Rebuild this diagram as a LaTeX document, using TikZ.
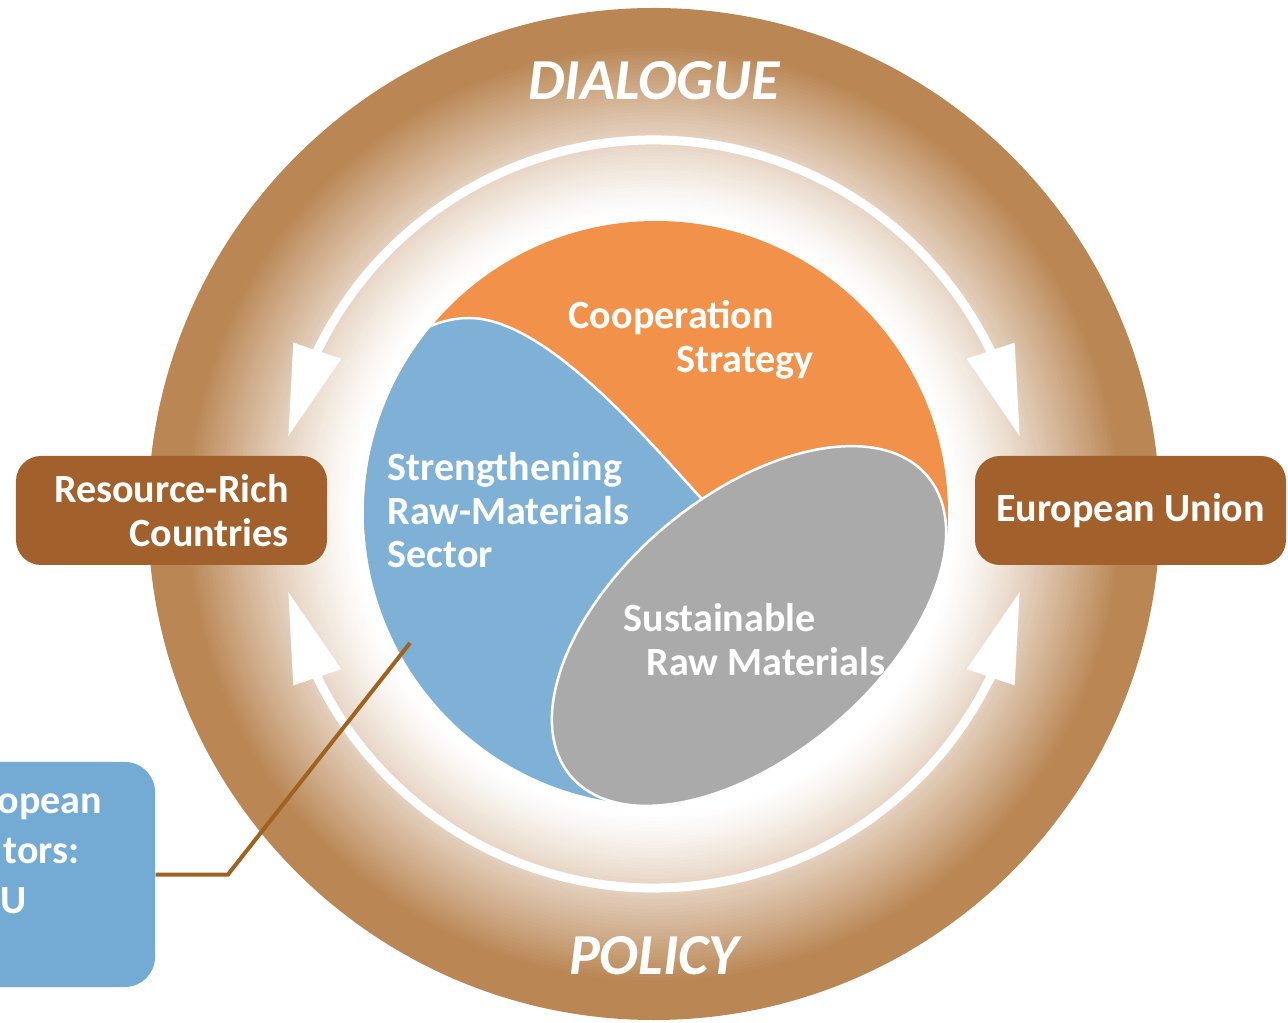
\documentclass[tikz,border=0pt]{standalone}
\usepackage{fontspec}
\setmainfont{Carlito}
\usetikzlibrary{arrows.meta,bending,calc}
\definecolor{ringbrown}{RGB}{185,134,84}
\definecolor{boxbrown}{RGB}{161,96,44}
\definecolor{coopor}{RGB}{241,145,74}
\definecolor{sectblue}{RGB}{127,177,215}
\definecolor{sustgray}{RGB}{170,170,170}
\definecolor{actblue}{RGB}{116,171,212}
\definecolor{pinbrown}{RGB}{160,98,30}
\begin{document}
\begin{tikzpicture}[
  lbl/.style={text=white, font=\fontsize{11.4}{12.3}\selectfont\bfseries, inner sep=0pt},
  bigword/.style={text=white, font=\fontsize{16.5}{18}\selectfont\bfseries\itshape, inner sep=0pt},
  sidebox/.style={fill=boxbrown, rounded corners=0.25cm, minimum width=3.11cm, minimum height=1.09cm, text=white, font=\fontsize{11.4}{12.3}\selectfont\bfseries},
  flow/.style={white, line width=0.09cm, {Triangle[length=0.91cm,width=0.48cm,flex=1]}-{Triangle[length=0.91cm,width=0.48cm,flex=1]}},
  part/.style={draw=white, line width=0.025cm}]
\useasboundingbox (0,0) rectangle (12.88,10.22);
\clip (0,0) rectangle (12.88,10.22);
\coordinate (ctr) at (6.54,5.08);
\coordinate (core) at (6.56,5.09);
%
% ring, brown fading to white
\fill[ringbrown] (ctr) circle (5.06);
\foreach \i in {0,...,50}{
  \pgfmathsetmacro\mixpct{100*(1-\i/50)*sqrt(sqrt(1-\i/50))}
  \fill[ringbrown!\mixpct!white] (ctr) circle ({4.70-0.034*\i});
}
\node[bigword] (dialogue) at (6.54,9.41) {DIALOGUE};
\node[bigword] (policy) at (6.54,0.66) {POLICY};
%
\draw[flow] ($(ctr)+(168.1:3.74)$) arc[start angle=168.1, end angle=11.9, radius=3.74];
\draw[flow] ($(ctr)+(191.9:3.74)$) arc[start angle=191.9, end angle=348.1, radius=3.74];
%
\begin{scope}
\clip (core) circle (2.92);
\fill[coopor] (3,4.87) rectangle (10,8.2);
\path[fill=sectblue, part] (3.70,6.40) .. controls (3.95,6.80) and (4.30,7.04) .. (4.69,7.04)
  .. controls (5.45,7.04) and (6.45,5.85) .. (7.00,5.25)
  .. controls (7.30,4.95) and (7.60,4.50) .. (7.60,4.10)
  -- (7.40,3.00) -- (6.90,2.30) -- (6.55,1.85) -- (3.00,1.20) -- (3.00,6.40) -- cycle;
\end{scope}
\path[fill=sustgray, part, rotate around={40:(7.49,3.96)}] (7.49,3.96) ellipse [x radius=2.33, y radius=1.30];
%
\node[lbl, align=left, anchor=north west] (coop) at (5.68,7.22) {Cooperation\\\hspace*{1.08cm}Strategy};
\node[lbl, align=left, anchor=north west] (sector) at (3.87,5.70) {Strengthening\\Raw-Materials\\Sector};
\node[lbl, align=left, anchor=north west] (sust) at (6.23,4.19) {Sustainable\\\hspace*{0.23cm}Raw Materials};
%
\node[sidebox, align=right] (rrc) at (1.715,5.115) {Resource-Rich\\Countries};
\node[sidebox] (eu) at (11.305,5.115) {European Union};
%
\node[fill=actblue, rounded corners=0.3cm, minimum width=1.95cm, minimum height=2.25cm] (actors) at (0.575,1.475) {};
\node[lbl, align=left, anchor=north west, font=\fontsize{11.4}{14.2}\selectfont\bfseries] (actorstext) at (-0.03,2.29) {opean\\\hspace*{0.06cm}tors:\\\hspace*{0.03cm}U};
\coordinate (bend) at (2.28,1.475);
\coordinate (pin) at (4.10,3.79);
\draw[pinbrown, line width=0.04cm] (actors.east) -- (bend) -- (pin);
\end{tikzpicture}
\end{document}
